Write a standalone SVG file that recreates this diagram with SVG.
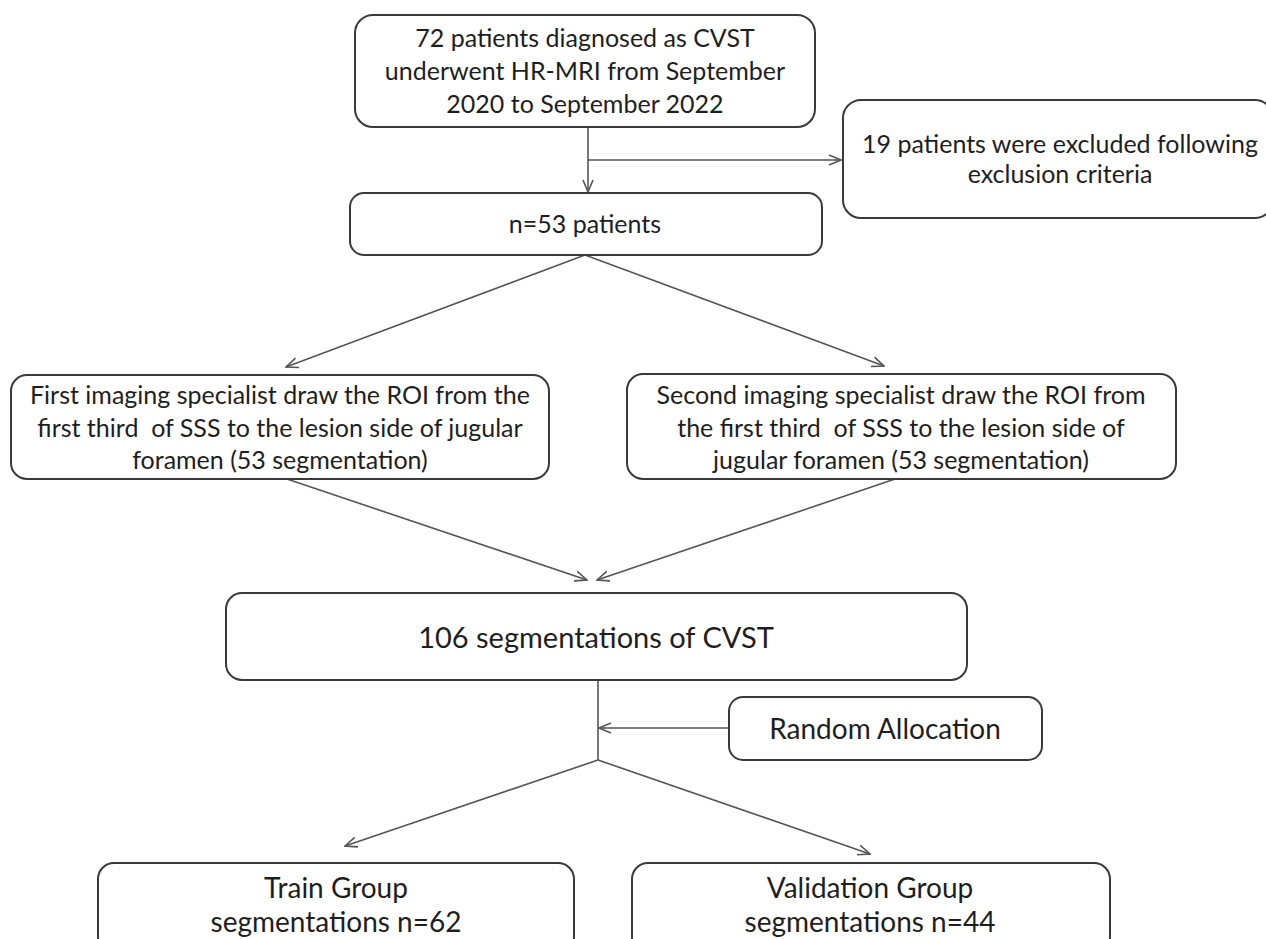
<svg xmlns="http://www.w3.org/2000/svg" width="1266" height="939" viewBox="0 0 1266 939">
<defs>
<style>
.box{fill:#fff;stroke:#3a3a3a;stroke-width:2}
.t{font-family:Lato,"Open Sans","Liberation Sans",sans-serif;fill:#1e1e1e;text-anchor:middle;white-space:pre}
.c{stroke:#555;stroke-width:1.6;fill:none}
</style>
<marker id="ah" viewBox="0 0 14 12" refX="13" refY="6" markerWidth="14" markerHeight="12" markerUnits="userSpaceOnUse" orient="auto">
<path d="M1,1 L13,6 L1,11" fill="none" stroke="#555" stroke-width="1.6"/>
</marker>
</defs>
<rect width="1266" height="939" fill="#fff"/>
<g id="connectors">
<line class="c" x1="588" y1="127" x2="588" y2="192" marker-end="url(#ah)"/>
<line class="c" x1="588" y1="160" x2="841" y2="160" marker-end="url(#ah)"/>
<line class="c" x1="585" y1="255" x2="286" y2="367" marker-end="url(#ah)"/>
<line class="c" x1="585" y1="255" x2="884" y2="366" marker-end="url(#ah)"/>
<line class="c" x1="284" y1="478" x2="587" y2="580" marker-end="url(#ah)"/>
<line class="c" x1="898" y1="478" x2="597" y2="580" marker-end="url(#ah)"/>
<line class="c" x1="598" y1="680" x2="598" y2="760"/>
<line class="c" x1="729" y1="728" x2="599" y2="728" marker-end="url(#ah)"/>
<line class="c" x1="598" y1="760" x2="345" y2="846" marker-end="url(#ah)"/>
<line class="c" x1="598" y1="760" x2="870" y2="854" marker-end="url(#ah)"/>
</g>
<g id="n1">
<rect class="box" x="355" y="15" width="460" height="112" rx="18"/>
<text class="t" font-size="25" x="585" y="47">72 patients diagnosed as CVST</text>
<text class="t" font-size="25" x="585" y="80">underwent HR-MRI from September</text>
<text class="t" font-size="25" x="585" y="113">2020 to September 2022</text>
</g>
<g id="n2">
<rect class="box" x="843" y="100" width="430" height="118" rx="18"/>
<text class="t" font-size="25" x="1060" y="153">19 patients were excluded following</text>
<text class="t" font-size="25" x="1060" y="183">exclusion criteria</text>
</g>
<g id="n3">
<rect class="box" x="350" y="193" width="472" height="62" rx="14"/>
<text class="t" font-size="25" x="585" y="233">n=53 patients</text>
</g>
<g id="n4">
<rect class="box" x="11" y="375" width="538" height="104" rx="16"/>
<text class="t" font-size="25" x="280" y="404">First imaging specialist draw the ROI from the</text>
<text class="t" font-size="25" x="280" y="437" xml:space="preserve">first third  of SSS to the lesion side of jugular</text>
<text class="t" font-size="25" x="280" y="469">foramen (53 segmentation)</text>
</g>
<g id="n5">
<rect class="box" x="627" y="374" width="549" height="105" rx="16"/>
<text class="t" font-size="25" x="901" y="404">Second imaging specialist draw the ROI from</text>
<text class="t" font-size="25" x="901" y="437" xml:space="preserve">the first third  of SSS to the lesion side of</text>
<text class="t" font-size="25" x="901" y="469">jugular foramen (53 segmentation)</text>
</g>
<g id="n6">
<rect class="box" x="226" y="593" width="741" height="87" rx="16"/>
<text class="t" font-size="29" x="596" y="648">106 segmentations of CVST</text>
</g>
<g id="n7">
<rect class="box" x="729" y="697" width="313" height="63" rx="14"/>
<text class="t" font-size="28" x="885" y="739">Random Allocation</text>
</g>
<g id="n8">
<rect class="box" x="98" y="863" width="476" height="90" rx="16"/>
<text class="t" font-size="28" x="336" y="898">Train Group</text>
<text class="t" font-size="28" x="336" y="932">segmentations n=62</text>
</g>
<g id="n9">
<rect class="box" x="632" y="863" width="478" height="90" rx="16"/>
<text class="t" font-size="28" x="870" y="898">Validation Group</text>
<text class="t" font-size="28" x="870" y="932">segmentations n=44</text>
</g>
</svg>
